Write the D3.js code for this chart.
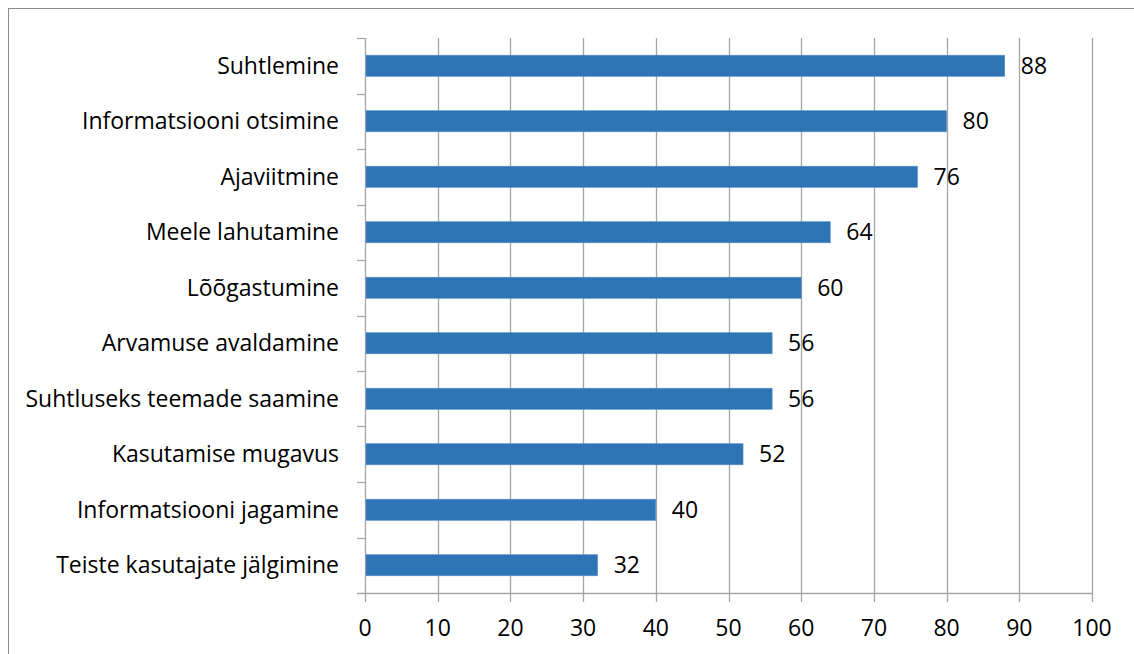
<!DOCTYPE html>
<html>
<head>
<meta charset="utf-8">
<script src="https://cdn.jsdelivr.net/npm/d3@7"></script>
<style>
  body { margin: 0; background: #fff; }
  text { font-family: "Open Sans", "Noto Sans", sans-serif; fill: #000; }
</style>
</head>
<body>
<div id="chart"></div>
<script>
const categorias = [
    "Suhtlemine",
    "Informatsiooni otsimine",
    "Ajaviitmine",
    "Meele lahutamine",
    "Lõõgastumine",
    "Arvamuse avaldamine",
    "Suhtluseks teemade saamine",
    "Kasutamise mugavus",
    "Informatsiooni jagamine",
    "Teiste kasutajate jälgimine"
];
const valores = [88, 80, 76, 64, 60, 56, 56, 52, 40, 32];
const ticksX = [0, 10, 20, 30, 40, 50, 60, 70, 80, 90, 100];

const ancho = 1134, alto = 654;
const margin = { top: 38, right: 42, bottom: 61, left: 365 };
const tamLetra = "23px";

const svg = d3.select("#chart").append("svg")
    .attr("width", ancho)
    .attr("height", alto);

// marco del grafico
svg.append("rect")
    .attr("x", 8.5).attr("y", 8.5)
    .attr("width", ancho).attr("height", alto)
    .attr("fill", "none")
    .attr("stroke", "#8c8c8c");

const x = d3.scaleLinear()
    .domain([0, 100])
    .range([margin.left, ancho - margin.right]);

const y = d3.scaleBand()
    .domain(categorias)
    .range([margin.top, alto - margin.bottom])
    .paddingInner(0.62)
    .paddingOuter(0.31);

const yBordes = d3.scaleLinear()
    .domain([0, categorias.length])
    .range([margin.top, alto - margin.bottom]);

// lineas de cuadricula
svg.selectAll("line.grid")
    .data(ticksX)
    .enter().append("line")
    .attr("class", "grid")
    .attr("x1", d => Math.round(x(d)) + 0.5)
    .attr("x2", d => Math.round(x(d)) + 0.5)
    .attr("y1", margin.top)
    .attr("y2", alto - margin.bottom + 9)
    .attr("stroke", "#a6a6a6")
    .attr("stroke-width", 1.3);

// eje x
svg.append("line")
    .attr("x1", x(0) - 8).attr("x2", x(100))
    .attr("y1", alto - margin.bottom + 0.5)
    .attr("y2", alto - margin.bottom + 0.5)
    .attr("stroke", "#a6a6a6")
    .attr("stroke-width", 1.3);

svg.selectAll("text.tickX")
    .data(ticksX)
    .enter().append("text")
    .attr("class", "tickX")
    .attr("x", d => x(d))
    .attr("y", alto - margin.bottom + 34.5)
    .attr("dy", "0.35em")
    .attr("text-anchor", "middle")
    .style("font-size", tamLetra)
    .text(d => d);

// marcas del eje y
svg.selectAll("line.tickY")
    .data(d3.range(categorias.length))
    .enter().append("line")
    .attr("class", "tickY")
    .attr("x1", x(0) - 8).attr("x2", x(0))
    .attr("y1", d => Math.round(yBordes(d)) + 0.5)
    .attr("y2", d => Math.round(yBordes(d)) + 0.5)
    .attr("stroke", "#a6a6a6")
    .attr("stroke-width", 1.3);

// barras
svg.selectAll("rect.barra")
    .data(valores)
    .enter().append("rect")
    .attr("class", "barra")
    .attr("x", x(0) + 1)
    .attr("y", (d, i) => y(categorias[i]))
    .attr("width", d => x(d) - x(0) - 1)
    .attr("height", y.bandwidth())
    .attr("fill", "#2e75b6")
    .attr("stroke", "#5b8fc9")
    .attr("stroke-width", 0.6);

// etiquetas de categoria
svg.selectAll("text.cat")
    .data(categorias)
    .enter().append("text")
    .attr("class", "cat")
    .attr("x", x(0) - 26)
    .attr("y", d => y(d) + y.bandwidth() / 2)
    .attr("dy", "0.35em")
    .attr("text-anchor", "end")
    .style("font-size", tamLetra)
    .text(d => d);

// etiquetas de valor
svg.selectAll("text.valor")
    .data(valores)
    .enter().append("text")
    .attr("class", "valor")
    .attr("x", d => x(d) + 16)
    .attr("y", (d, i) => y(categorias[i]) + y.bandwidth() / 2)
    .attr("dy", "0.35em")
    .style("font-size", tamLetra)
    .text(d => d);
</script>
</body>
</html>
